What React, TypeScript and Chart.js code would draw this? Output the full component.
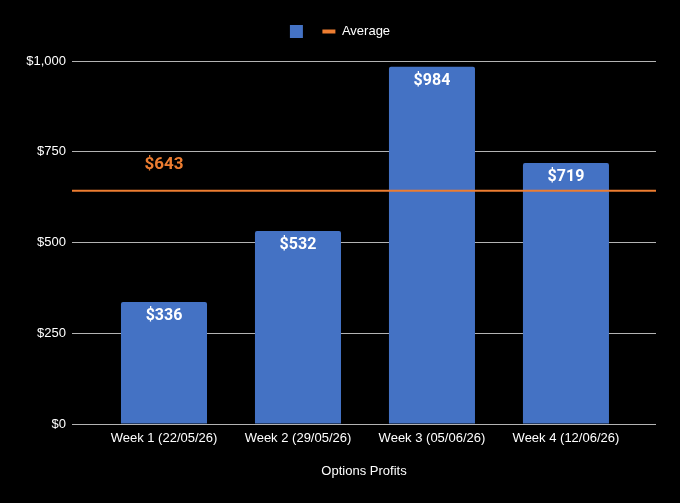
import React, { useEffect, useRef } from "react";
import { Chart, registerables } from "chart.js";

Chart.register(...registerables);

const categories = ["Week 1 (22/05/26)", "Week 2 (29/05/26)", "Week 3 (05/06/26)", "Week 4 (12/06/26)"];
const profits = [336, 532, 984, 719];
const yTicks = [0, 250, 500, 750, 1000];
const axisTitle = "Options Profits";
const averageLabel = "Average";

const BAR_COLOR = "#4472c4";
const AVG_COLOR = "#ed7d31";
const TEXT_COLOR = "#ffffff";
const GRID_COLOR = "#b3b3b3";
const FONT = "'Liberation Sans', Arial, sans-serif";

const average = profits.reduce((a, b) => a + b, 0) / profits.length;
const money = (v: number) => "$" + Math.round(v).toLocaleString("en-US");

const legendGapPlugin = {
  id: "legendGap",
  afterInit(chart: any) {
    const legend = chart.legend;
    if (!legend || legend.__patched) return;
    const orig = legend.fit.bind(legend);
    legend.fit = function () {
      orig();
      this.height += 13;
    };
    legend.__patched = true;
  },
};

const overlayPlugin = {
  id: "overlay",
  afterDatasetsDraw(chart: any) {
    const { ctx, chartArea, scales } = chart;
    const meta = chart.getDatasetMeta(0);
    ctx.save();
    // bar value labels
    ctx.font = "bold 16px Roboto, 'Liberation Sans', sans-serif";
    ctx.fillStyle = TEXT_COLOR;
    ctx.textAlign = "center";
    ctx.textBaseline = "middle";
    meta.data.forEach((bar: any, i: number) => {
      ctx.fillText(money(profits[i]), bar.x, bar.y + 14);
    });
    // average line
    const yAvg = scales.y.getPixelForValue(average);
    ctx.strokeStyle = AVG_COLOR;
    ctx.lineWidth = 2;
    ctx.beginPath();
    ctx.moveTo(chartArea.left, yAvg);
    ctx.lineTo(chartArea.right, yAvg);
    ctx.stroke();
    // average label
    ctx.font = "bold 17px Roboto, 'Liberation Sans', sans-serif";
    ctx.fillStyle = AVG_COLOR;
    ctx.fillText(money(average), meta.data[0].x, yAvg - 26);
    ctx.restore();
  },
};

export default function App() {
  const ref = useRef<HTMLCanvasElement>(null);

  useEffect(() => {
    document.body.style.margin = "0";
    document.body.style.background = "#000";
    const canvas = ref.current!;
    const chart = new Chart(canvas, {
      type: "bar",
      data: {
        datasets: [
          {
            label: "",
            data: profits.map((v, i) => ({ x: i, y: v })),
            backgroundColor: BAR_COLOR,
            borderRadius: { topLeft: 2, topRight: 2, bottomLeft: 0, bottomRight: 0 },
            borderSkipped: "bottom",
            barPercentage: 0.642,
            categoryPercentage: 1,
          },
        ],
      },
      options: {
        responsive: false,
        animation: false,
        devicePixelRatio: 1,
        layout: { padding: { top: 12, right: 24, bottom: 0, left: 24 } },
        plugins: {
          tooltip: { enabled: false },
          legend: {
            position: "top",
            labels: {
              color: TEXT_COLOR,
              font: { family: FONT, size: 13 },
              usePointStyle: true,
              pointStyleWidth: 13,
              boxHeight: 13,
              padding: 13,
              generateLabels: () => [
                {
                  text: "",
                  fillStyle: BAR_COLOR,
                  strokeStyle: BAR_COLOR,
                  lineWidth: 0,
                  pointStyle: "rect",
                  hidden: false,
                  datasetIndex: 0,
                },
                {
                  text: averageLabel,
                  fillStyle: AVG_COLOR,
                  strokeStyle: AVG_COLOR,
                  lineWidth: 4,
                  pointStyle: "line",
                  hidden: false,
                  fontColor: TEXT_COLOR,
                },
              ] as any,
            },
          },
        },
        scales: {
          x: {
            type: "linear",
            offset: false,
            min: -0.6866,
            max: 3.672,
            grid: { display: false, drawTicks: false, offset: false },
            border: { display: false },
            afterBuildTicks: (scale: any) => {
              scale.ticks = categories.map((_, i) => ({ value: i }));
            },
            afterFit: (scale: any) => {
              scale.height = 79;
            },
            ticks: {
              color: TEXT_COLOR,
              font: { family: FONT, size: 13 },
              padding: 7,
              maxRotation: 0,
              autoSkip: false,
              callback: (v: any) => categories[v] ?? "",
            },
            title: {
              display: true,
              text: axisTitle,
              color: TEXT_COLOR,
              font: { family: FONT, size: 13 },
              padding: { top: 4, bottom: 24 },
            },
          },
          y: {
            min: 0,
            max: 1000,
            afterBuildTicks: (scale: any) => {
              scale.ticks = yTicks.map((v) => ({ value: v }));
            },
            afterFit: (scale: any) => {
              scale.width = 48;
            },
            grid: { color: GRID_COLOR, lineWidth: 1, drawTicks: false },
            border: { display: false },
            ticks: {
              color: TEXT_COLOR,
              font: { family: FONT, size: 13 },
              padding: 6,
              callback: (v: any) => money(v),
            },
          },
        },
      },
      plugins: [legendGapPlugin, overlayPlugin],
    } as any);
    return () => chart.destroy();
  }, []);

  return (
    <div style={{ width: 680, height: 503, background: "#000" }}>
      <canvas ref={ref} width={680} height={503} />
    </div>
  );
}
